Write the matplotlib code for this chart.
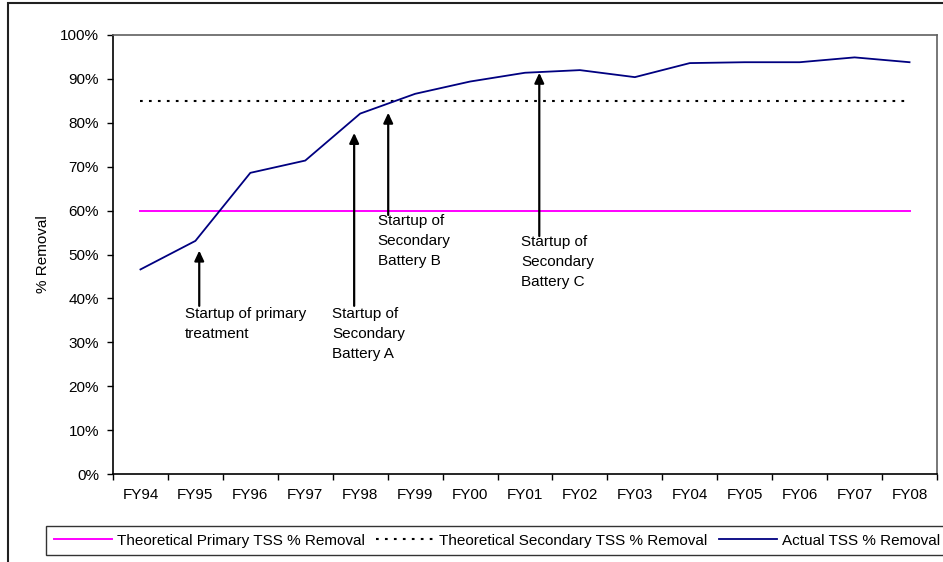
import matplotlib
matplotlib.use('Agg')
import matplotlib.pyplot as plt
from matplotlib.lines import Line2D
from matplotlib.patches import Rectangle
from matplotlib.ticker import PercentFormatter, FixedLocator

plt.rcParams['font.family'] = ['Liberation Sans', 'DejaVu Sans']

years = ['FY94', 'FY95', 'FY96', 'FY97', 'FY98', 'FY99', 'FY00', 'FY01',
         'FY02', 'FY03', 'FY04', 'FY05', 'FY06', 'FY07', 'FY08']
actual_removal = [46.6, 53.1, 68.6, 71.4, 82.1, 86.6, 89.4, 91.4,
                  92.0, 90.4, 93.6, 93.8, 93.8, 94.9, 93.8]
primary_theory = [60] * len(years)
secondary_theory = [85] * len(years)

# startup notes: label, arrow x (category units), arrow tip, arrow tail, text x, text top
notes = [
    ('Startup of primary\ntreatment', 1.07, 50.9, 38.3, 0.81, 38.0),
    ('Startup of\nSecondary\nBattery A', 3.89, 77.7, 38.3, 3.49, 38.0),
    ('Startup of\nSecondary\nBattery B', 4.51, 82.3, 59.0, 4.32, 59.2),
    ('Startup of\nSecondary\nBattery C', 7.26, 91.4, 54.2, 6.93, 54.4),
]

fs = 11
fig = plt.figure(figsize=(9.43, 5.62), dpi=100)
ax = fig.add_axes([113/943, 1 - 474/562, 824/943, 439/562])

x = list(range(len(years)))
ax.plot(x, primary_theory, color='#FF00FF', lw=1.4)
ax.plot(x, secondary_theory, color='black', lw=1.5, linestyle=(0, (1.3, 3)))
ax.plot(x, actual_removal, color='#000080', lw=1.3)

for label, ax_x, tip, tail, tx, ty in notes:
    ax.annotate('', xy=(ax_x, tip), xytext=(ax_x, tail),
                arrowprops=dict(arrowstyle='-|>,head_length=0.6,head_width=0.28',
                                color='black', lw=1.6, shrinkA=0, shrinkB=0,
                                mutation_scale=10))
    ax.text(tx, ty, label, ha='left', va='top', fontsize=fs, linespacing=1.55)

ax.set_xlim(-0.5, len(years) - 0.5)
ax.set_ylim(0, 100)
ax.set_yticks(range(0, 101, 10))
ax.yaxis.set_major_formatter(PercentFormatter(decimals=0))
ax.xaxis.set_major_locator(FixedLocator([i - 0.5 for i in range(len(years) + 1)]))
ax.xaxis.set_minor_locator(FixedLocator(x))
ax.set_xticklabels([])
ax.set_xticklabels(years, minor=True)
ax.tick_params(axis='x', which='major', direction='out', length=4, width=1)
ax.tick_params(axis='x', which='minor', length=0, pad=10, labelsize=fs)
ax.tick_params(axis='y', direction='out', length=4, width=1, pad=6, labelsize=fs)

ax.set_ylabel('% Removal', fontsize=fs)
ax.yaxis.set_label_coords(-0.076, 0.5)

for side in ['top', 'right']:
    ax.spines[side].set_color('#606060')
    ax.spines[side].set_linewidth(1.2)
for side in ['left', 'bottom']:
    ax.spines[side].set_color('black')
    ax.spines[side].set_linewidth(1.2)

# outer chart border, cropped at right and bottom
fig.patches.append(Rectangle((8/943, -0.2), 1.2, 1.2 - 3/562, transform=fig.transFigure,
                             fill=False, edgecolor='#202020', lw=1.5))

handles = [
    Line2D([], [], color='#FF00FF', lw=1.4),
    Line2D([], [], color='black', lw=1.5, linestyle=(0, (1.3, 3))),
    Line2D([], [], color='#000080', lw=1.3),
]
labels = ['Theoretical Primary TSS % Removal', 'Theoretical Secondary TSS % Removal',
          'Actual TSS % Removal']
leg = fig.legend(handles, labels, loc='upper left', bbox_to_anchor=(46/943, 1 - 526/562),
                 ncol=3, fontsize=fs, frameon=True, fancybox=False, shadow=False,
                 handlelength=3.8, handletextpad=0.33, columnspacing=0.75,
                 borderpad=0.5, borderaxespad=0)
leg.get_frame().set_edgecolor('black')
leg.get_frame().set_linewidth(1.0)

fig.savefig('out.png', dpi=100)
